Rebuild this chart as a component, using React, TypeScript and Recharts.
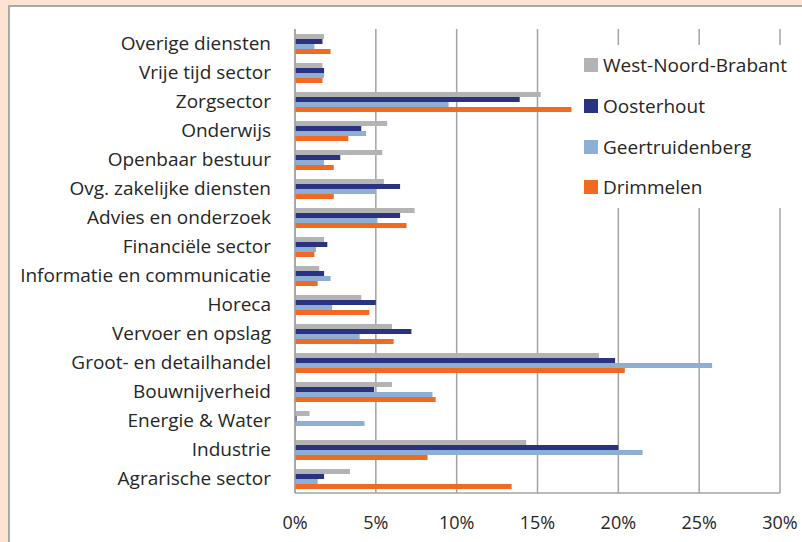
import React from "react";
import { BarChart, Bar, XAxis, YAxis, CartesianGrid } from "recharts";

// sectoren, van boven naar beneden
const categories = [
  "Overige diensten",
  "Vrije tijd sector",
  "Zorgsector",
  "Onderwijs",
  "Openbaar bestuur",
  "Ovg. zakelijke diensten",
  "Advies en onderzoek",
  "Financiële sector",
  "Informatie en communicatie",
  "Horeca",
  "Vervoer en opslag",
  "Groot- en detailhandel",
  "Bouwnijverheid",
  "Energie & Water",
  "Industrie",
  "Agrarische sector",
];

// aandeel werkzame personen in % per sector
const westNoordBrabant = [1.8, 1.7, 15.2, 5.7, 5.4, 5.5, 7.4, 1.8, 1.5, 4.1, 6.0, 18.8, 6.0, 0.9, 14.3, 3.4];
const oosterhout = [1.7, 1.8, 13.9, 4.1, 2.8, 6.5, 6.5, 2.0, 1.8, 5.0, 7.2, 19.8, 4.9, 0.1, 20.0, 1.8];
const geertruidenberg = [1.2, 1.8, 9.5, 4.4, 1.8, 5.0, 5.1, 1.3, 2.2, 2.3, 4.0, 25.8, 8.5, 4.3, 21.5, 1.4];
const drimmelen = [2.2, 1.7, 17.1, 3.3, 2.4, 2.4, 6.9, 1.2, 1.4, 4.6, 6.1, 20.4, 8.7, 0, 8.2, 13.4];

const xTicks = [0, 5, 10, 15, 20, 25, 30];

const series = [
  { key: "wnb", name: "West-Noord-Brabant", color: "#B3B3B3" },
  { key: "ooh", name: "Oosterhout", color: "#2A3282" },
  { key: "gtb", name: "Geertruidenberg", color: "#8DAFD5" },
  { key: "dri", name: "Drimmelen", color: "#F26A22" },
];

const data = categories.map((name, i) => ({
  name,
  wnb: westNoordBrabant[i],
  ooh: oosterhout[i],
  gtb: geertruidenberg[i],
  dri: drimmelen[i],
}));

const FONT = "'Open Sans', sans-serif";
const TEXT = "#262626";
const GRID = "#A3A3A3";

// legenda ligt in het plotvlak, met witte achtergrond over de rasterlijnen
function LegendBox() {
  return (
    <div
      style={{
        position: "absolute",
        left: 575,
        top: 45,
        width: 224,
        height: 163,
        background: "#fff",
      }}
    >
      {series.map((s, i) => (
        <div
          key={s.key}
          style={{
            position: "absolute",
            top: 8 + i * 40.8,
            left: 0,
            display: "flex",
            alignItems: "center",
            height: 24,
            fontFamily: FONT,
            fontSize: 19,
            color: TEXT,
            whiteSpace: "nowrap",
          }}
        >
          <div style={{ width: 14, height: 14, background: s.color, marginLeft: 9, marginRight: 5 }} />
          <span>{s.name}</span>
        </div>
      ))}
    </div>
  );
}

export default function App() {
  return (
    <div style={{ position: "absolute", left: 0, top: 0, width: 802, height: 542, background: "#FDE3D1", overflow: "hidden" }}>
      <div
        style={{
          position: "absolute",
          left: 8,
          top: 5,
          width: 794,
          height: 537,
          background: "#fff",
          borderLeft: "2px solid #A9A9A9",
          borderTop: "2px solid #A9A9A9",
          boxSizing: "border-box",
        }}
      />
      <div style={{ position: "absolute", left: 0, top: 0 }}>
        <BarChart
          width={802}
          height={542}
          data={data}
          layout="vertical"
          margin={{ top: 29, right: 22, left: 10, bottom: 9 }}
          barSize={5}
          barGap={0}
        >
          <CartesianGrid horizontal={false} stroke={GRID} strokeWidth={1.5} />
          <XAxis
            type="number"
            domain={[0, 30]}
            ticks={xTicks}
            tickFormatter={(v) => `${v}%`}
            axisLine={{ stroke: GRID, strokeWidth: 1.5 }}
            tickLine={false}
            tickMargin={17}
            height={40}
            tick={{ fontSize: 18, fill: TEXT, fontFamily: FONT }}
          />
          <YAxis
            type="category"
            dataKey="name"
            width={285}
            axisLine={{ stroke: GRID, strokeWidth: 1.5 }}
            tickLine={false}
            tickMargin={18}
            interval={0}
            tick={{ fontSize: 19, fill: TEXT, fontFamily: FONT }}
          />
          {series.map((s) => (
            <Bar key={s.key} dataKey={s.key} name={s.name} fill={s.color} isAnimationActive={false} />
          ))}
        </BarChart>
      </div>
      <LegendBox />
    </div>
  );
}
